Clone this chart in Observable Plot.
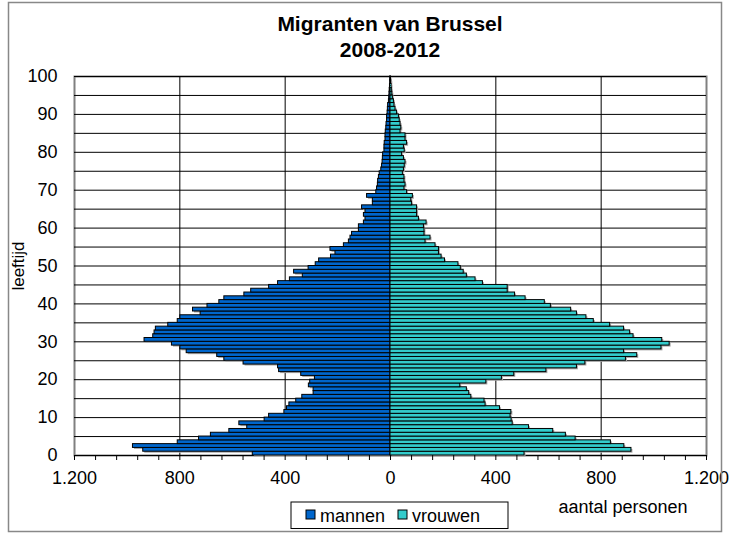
<!DOCTYPE html>
<html><head><meta charset="utf-8">
<script src="https://cdn.jsdelivr.net/npm/d3@7"></script>
<script src="https://cdn.jsdelivr.net/npm/@observablehq/plot@0.6"></script>
<style>body{margin:0;background:#fff} svg{display:block}</style>
</head><body><div id="chart"></div>
<script>
const ages = d3.range(0, 100);
const mannen = [523,939,978,808,727,682,612,544,574,478,
  461,403,393,384,358,335,292,292,310,305,
  287,339,423,427,558,631,658,774,798,830,
  934,901,896,891,844,808,798,721,750,695,
  650,631,555,529,461,427,382,333,366,311,
  284,271,226,209,228,177,158,152,146,120,
  120,101,95,101,95,108,67,67,89,54,
  51,48,47,44,41,35,32,30,29,28,
  23,23,22,19,19,18,16,15,13,13,
  11,10,9,6,5,4,3,2,1,1];
const vrouwen = [509,915,888,837,703,666,618,526,464,460,
  456,459,416,361,357,307,299,290,265,364,
  423,470,592,708,740,894,937,887,1029,1060,
  1032,923,910,887,834,772,744,708,686,609,
  586,513,473,445,445,351,323,290,278,267,
  258,207,194,184,184,171,133,152,129,129,
  127,137,108,101,101,101,82,79,85,63,
  53,57,53,53,47,51,54,57,51,44,
  54,51,63,57,57,38,41,38,35,32,
  25,19,15,13,9,7,5,4,3,2];
const sexes = ["mannen", "vrouwen"];
const colors = ["#0066CC", "#33CCCC"];
const xTicks = [-1200, -800, -400, 0, 400, 800, 1200];
const xGrid = [-800, -400, 0, 400, 800];
const xMinor = d3.range(-1200, 1201, 80);
const yTicks = d3.range(0, 101, 10);
const yGrid = d3.range(0, 101, 5);
const title = ["Migranten van Brussel", "2008-2012"];
const yLabel = "leeftijd";
const xLabel = "aantal personen";

const nl = d3.formatLocale({decimal: ",", thousands: ".", grouping: [3], currency: ["€", ""]});
const fmt = nl.format(",");

const rows = [];
ages.forEach((a, i) => {
  rows.push({age: a, sex: sexes[0], v: -mannen[i]});
  rows.push({age: a, sex: sexes[1], v: vrouwen[i]});
});

const chart = Plot.plot({
  width: 730, height: 533,
  marginLeft: 74, marginRight: 24, marginTop: 76, marginBottom: 78,
  style: {fontFamily: "'Liberation Sans', Arial, sans-serif", fontSize: "18px", color: "#000", background: "transparent"},
  x: {domain: [-1200, 1200]},
  y: {domain: [0, 100]},
  color: {domain: sexes, range: colors},
  marks: [
    Plot.frame({stroke: "#808080", strokeWidth: 2}),
    Plot.ruleY(yGrid, {stroke: "#000", strokeWidth: 1}),
    Plot.ruleX(xGrid, {stroke: "#000", strokeWidth: 1}),
    Plot.rect(rows, {x1: 0, x2: "v", y1: "age", y2: d => d.age + 1, fill: "#a8a8a8", dx: 1.5, dy: 1.5}),
    Plot.rect(rows, {x1: 0, x2: "v", y1: "age", y2: d => d.age + 1, fill: "sex", stroke: "#000", strokeWidth: 1}),
    Plot.axisX(xMinor, {tickSize: 5, tickPadding: 11, label: null,
      tickFormat: d => xTicks.includes(d) ? fmt(Math.abs(d)) : ""}),
    Plot.axisY(yTicks, {tickSize: 0, tickPadding: 17, label: null, tickFormat: d => String(d)})
  ]
});
document.getElementById("chart").append(chart);

const svg = d3.select(chart);
const F = "'Liberation Sans', Arial, sans-serif";
svg.append("rect").attr("x", 8.5).attr("y", 2.5).attr("width", 713).attr("height", 529)
  .attr("fill", "none").attr("stroke", "#888").attr("stroke-width", 1.5);

const tg = svg.append("g").attr("font-family", F).attr("font-weight", "bold")
  .attr("font-size", 21).attr("text-anchor", "middle").attr("fill", "#000");
title.forEach((t, i) => tg.append("text").attr("x", 390).attr("y", 31 + i * 26).text(t));

svg.append("text").attr("font-family", F).attr("font-size", 17).attr("text-anchor", "middle")
  .attr("transform", "translate(24,266) rotate(-90)").text(yLabel);

svg.append("text").attr("font-family", F).attr("font-size", 18).attr("text-anchor", "middle")
  .attr("x", 623).attr("y", 513).text(xLabel);

const lg = svg.append("g").attr("font-family", F).attr("font-size", 18).attr("text-anchor", "start");
lg.append("rect").attr("x", 291).attr("y", 502).attr("width", 217).attr("height", 26.5)
  .attr("fill", "#fff").attr("stroke", "#000").attr("stroke-width", 1);
const lx = [306, 398];
sexes.forEach((s, i) => {
  lg.append("rect").attr("x", lx[i]).attr("y", 510).attr("width", 9).attr("height", 9)
    .attr("fill", colors[i]).attr("stroke", "#000").attr("stroke-width", 1);
  lg.append("text").attr("x", lx[i] + 14).attr("y", 521.5).attr("text-anchor", "start").text(s);
});
</script></body></html>
